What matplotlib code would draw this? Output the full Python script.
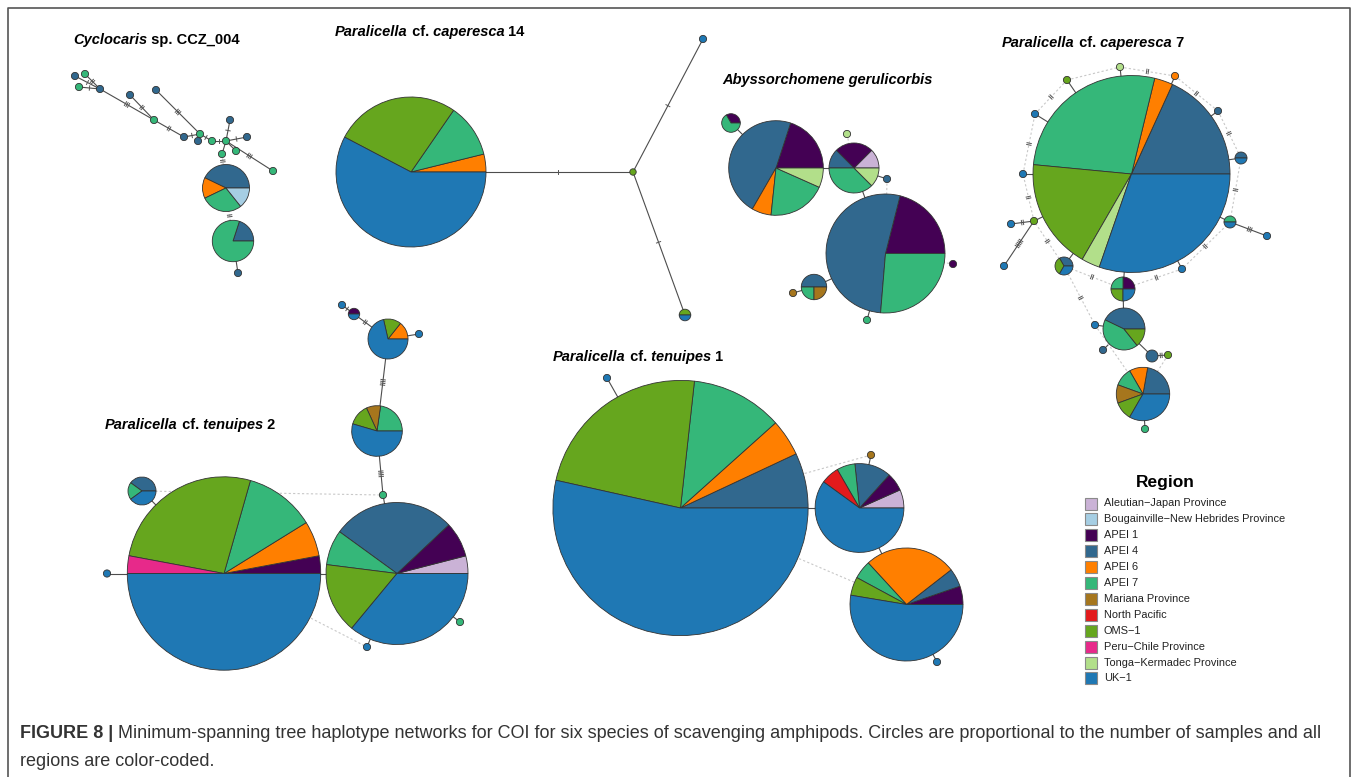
import matplotlib.pyplot as plt
import numpy as np

plt.rcParams['font.family'] = ['Liberation Sans', 'DejaVu Sans']

# 区域、代码与颜色（图例顺序）
region_names = ["Aleutian−Japan Province", "Bougainville−New Hebrides Province", "APEI 1", "APEI 4",
                "APEI 6", "APEI 7", "Mariana Province", "North Pacific", "OMS−1",
                "Peru−Chile Province", "Tonga−Kermadec Province", "UK−1"]
region_codes = ["AJ", "BNH", "A1", "A4", "A6", "A7", "MAR", "NP", "OMS", "PC", "TK", "UK"]
region_colors = ["#CAB2D6", "#A6CEE3", "#440154", "#31688E", "#FF7F00", "#35B779",
                 "#A6761D", "#E31A1C", "#66A61E", "#E7298A", "#B2DF8A", "#1F78B4"]
col = dict(zip(region_codes, region_colors))

# ---------------- 单倍型组成（样本数） ----------------
cyclo_haps = {
    "c1": {"A4": 1}, "c2": {"A7": 1}, "c3": {"A7": 1}, "c4": {"A4": 1}, "c5": {"A4": 1},
    "c6": {"A4": 1}, "c7": {"A7": 1}, "c8": {"A4": 1}, "c9": {"A4": 1}, "c10": {"A7": 1},
    "c11": {"A7": 1}, "c12": {"A7": 1}, "c13": {"A4": 1}, "c14": {"A4": 1}, "c15": {"A7": 1},
    "c16": {"A7": 1}, "c17": {"A7": 1}, "c18": {"A4": 1},
    "P1": {"A4": 6, "A6": 2, "A7": 4, "BNH": 2},
    "P2": {"A4": 2, "A7": 8},
}
cap14_haps = {
    "B": {"A6": 1, "A7": 3, "OMS": 7, "UK": 15},
    "m": {"OMS": 1}, "t": {"UK": 1}, "b": {"OMS": 1, "UK": 1},
}
abyss_haps = {
    "A": {"A1": 3, "A4": 7, "A6": 1, "A7": 3, "TK": 1},
    "Bp": {"AJ": 1, "A1": 2, "A4": 1, "A7": 3, "TK": 1},
    "C": {"A1": 4, "A4": 10, "A7": 5},
    "D": {"A4": 2, "A7": 1, "MAR": 1},
    "E": {"A1": 1, "A7": 2},
    "n1": {"TK": 1}, "n2": {"A4": 1}, "n3": {"A1": 1}, "n4": {"MAR": 1}, "n5": {"A7": 1},
}
cap7_haps = {
    "G": {"A4": 6, "A6": 1, "A7": 9, "OMS": 6, "TK": 1, "UK": 10},
    "P2": {"A1": 1, "A7": 1, "OMS": 1, "UK": 1},
    "P3": {"A4": 3, "A7": 3, "OMS": 1},
    "P4": {"A4": 1},
    "P5": {"A4": 2, "A6": 1, "A7": 1, "MAR": 1, "OMS": 1, "UK": 3},
    "Q1": {"A4": 1, "UK": 1}, "Q2": {"A7": 1, "UK": 1}, "Q3": {"A4": 1, "OMS": 1, "UK": 1},
    "s1": {"TK": 1}, "s2": {"A6": 1}, "s3": {"OMS": 1}, "s4": {"UK": 1}, "s5": {"A4": 1},
    "s6": {"UK": 1}, "s7": {"UK": 1}, "s8": {"OMS": 1}, "s9": {"UK": 1}, "s10": {"UK": 1},
    "s11": {"UK": 1}, "s12": {"UK": 1}, "s13": {"A4": 1}, "s14": {"OMS": 1}, "s15": {"A7": 1},
}
ten2_haps = {
    "Tb": {"A1": 1, "A6": 2, "A7": 4, "OMS": 9, "PC": 1, "UK": 17},
    "Tr": {"AJ": 1, "A1": 2, "A4": 7, "A7": 2, "OMS": 4, "UK": 9},
    "Ts": {"A4": 2, "A7": 1, "UK": 2},
    "T1": {"A6": 1, "OMS": 1, "UK": 5},
    "T2": {"A7": 5, "MAR": 2, "OMS": 3, "UK": 12},
    "T0": {"A1": 1, "UK": 1},
    "u1": {"UK": 1}, "u2": {"UK": 1}, "u3": {"A7": 1}, "u4": {"UK": 1}, "u5": {"A7": 1}, "u6": {"UK": 1},
}
ten1_haps = {
    "V": {"A4": 3, "A6": 2, "A7": 5, "OMS": 10, "UK": 23},
    "S1": {"AJ": 1, "A1": 1, "A4": 2, "A7": 1, "NP": 1, "UK": 9},
    "S2": {"A1": 1, "A4": 1, "A6": 5, "A7": 1, "OMS": 1, "UK": 10},
    "w1": {"UK": 1}, "w2": {"MAR": 1}, "w3": {"UK": 1},
}

# ---------------- 网络布局（像素坐标 x, y, 半径） ----------------
R0 = 3.6
cyclo_lay = {
    "c1": (75, 76, R0), "c2": (85, 74, R0), "c3": (79, 87, R0), "c4": (100, 89, R0),
    "c5": (130, 95, R0), "c6": (156, 90, R0), "c7": (154, 120, R0), "c8": (184, 137, R0),
    "c9": (198, 141, R0), "c10": (200, 134, R0), "c11": (212, 141, R0), "c12": (226, 141, R0),
    "c13": (230, 120, R0), "c14": (247, 137, R0), "c15": (236, 151, R0), "c16": (222, 154, R0),
    "c17": (273, 171, R0), "c18": (238, 273, R0),
    "P1": (226, 188, 23.5), "P2": (233, 241, 20.7),
}
cap14_lay = {"B": (411, 172, 75), "m": (633, 172, 3.2), "t": (703, 39, 3.6), "b": (685, 315, 5.8)}
abyss_lay = {
    "A": (776, 168, 47.3), "Bp": (854, 168, 25), "C": (885.5, 253.5, 59.5), "D": (814, 287, 12.7),
    "E": (731, 123, 9.3), "n1": (847, 134, R0), "n2": (887, 179, R0), "n3": (953, 264, R0),
    "n4": (793, 293, R0), "n5": (867, 320, R0),
}
cap7_lay = {
    "G": (1131.5, 174, 98.5), "P2": (1123, 289, 12), "P3": (1124, 329, 21), "P4": (1152, 356, 6),
    "P5": (1143, 394, 26.7), "Q1": (1241, 158, 6), "Q2": (1230, 222, 6), "Q3": (1064, 266, 9),
    "s1": (1120, 67, R0), "s2": (1175, 76, R0), "s3": (1067, 80, R0), "s4": (1035, 114, R0),
    "s5": (1218, 111, R0), "s6": (1023, 174, R0), "s7": (1011, 224, R0), "s8": (1034, 221, R0),
    "s9": (1004, 266, R0), "s10": (1267, 236, R0), "s11": (1182, 269, R0), "s12": (1095, 325, R0),
    "s13": (1103, 350, R0), "s14": (1168, 355, R0), "s15": (1145, 429, R0),
}
ten2_lay = {
    "Tb": (224, 573.5, 96.7), "Tr": (397, 573.5, 71), "Ts": (142, 491, 14), "T1": (388, 339, 20),
    "T2": (377, 431, 25.3), "T0": (354, 314, 5.7), "u1": (342, 305, R0), "u2": (419, 334, R0),
    "u3": (383, 495, R0), "u4": (107, 573.5, R0), "u5": (460, 622, R0), "u6": (367, 647, R0),
}
ten1_lay = {
    "V": (680.5, 508, 127.6), "S1": (859.5, 508, 44.4), "S2": (906.5, 604.5, 56.5),
    "w1": (607, 378, R0), "w2": (871, 455, R0), "w3": (937, 662, R0),
}

# ---------------- 连线（起点, 终点, 突变刻痕数, 是否虚线） ----------------
cyclo_edges = [("c1", "c4", 1, 0), ("c2", "c4", 2, 0), ("c3", "c4", 1, 0), ("c4", "c7", 3, 0),
               ("c5", "c7", 2, 0), ("c7", "c8", 2, 0), ("c6", "c10", 3, 0), ("c8", "c10", 1, 0),
               ("c9", "c10", 0, 0), ("c10", "c11", 1, 0), ("c11", "c12", 1, 0), ("c12", "c13", 1, 0),
               ("c12", "c14", 1, 0), ("c12", "c15", 0, 0), ("c12", "c16", 0, 0), ("c12", "c17", 3, 0),
               ("c16", "P1", 2, 1), ("P1", "P2", 2, 1), ("P2", "c18", 0, 0)]
cap14_edges = [("B", "m", 1, 0), ("m", "t", 1, 0), ("m", "b", 1, 0)]
abyss_edges = [("E", "A", 0, 0), ("A", "Bp", 0, 0), ("Bp", "C", 0, 0), ("Bp", "n2", 0, 0),
               ("D", "C", 0, 0), ("D", "n4", 0, 0), ("C", "n5", 0, 0),
               ("n1", "Bp", 0, 1), ("n2", "C", 0, 1), ("C", "n3", 0, 1)]
cap7_edges = [("s1", "G", 0, 0), ("s2", "G", 0, 0), ("s3", "G", 0, 0), ("s4", "G", 0, 0),
              ("s5", "G", 0, 0), ("Q1", "G", 0, 0), ("s6", "G", 0, 0), ("s8", "G", 0, 0),
              ("Q2", "G", 0, 0), ("Q3", "G", 0, 0), ("s11", "G", 0, 0), ("P2", "G", 0, 0),
              ("P2", "P3", 0, 0), ("P3", "P4", 0, 0), ("P4", "s14", 2, 0), ("P3", "s12", 0, 0),
              ("P3", "s13", 0, 0), ("P5", "s15", 0, 0), ("s8", "s7", 2, 0), ("s8", "s9", 5, 0),
              ("Q2", "s10", 3, 0),
              ("s1", "s2", 2, 1), ("s2", "s5", 2, 1), ("s5", "Q1", 2, 1), ("Q1", "Q2", 2, 1),
              ("Q2", "s11", 2, 1), ("s11", "P2", 2, 1), ("P2", "Q3", 2, 1), ("Q3", "s8", 2, 1),
              ("s8", "s6", 2, 1), ("s6", "s4", 2, 1), ("s4", "s3", 2, 1), ("s3", "s1", 0, 1),
              ("Q3", "s12", 2, 1), ("s14", "P5", 0, 1), ("s12", "P5", 0, 1)]
ten2_edges = [("u1", "T0", 1, 0), ("T0", "T1", 2, 0), ("T1", "u2", 0, 0), ("T1", "T2", 4, 0),
              ("T2", "u3", 4, 0), ("u3", "Tr", 0, 0), ("Tb", "Tr", 0, 0), ("Tb", "u4", 0, 0),
              ("Ts", "Tb", 0, 0), ("Tr", "u5", 0, 0), ("Tr", "u6", 0, 0),
              ("Ts", "u3", 0, 1), ("Tb", "u6", 0, 1)]
ten1_edges = [("V", "S1", 0, 0), ("V", "w1", 0, 0), ("S1", "w2", 0, 0), ("S1", "S2", 0, 0),
              ("S2", "w3", 0, 0), ("V", "w2", 0, 1), ("V", "S2", 0, 1)]

titles = [
    (73, 40, [("Cyclocaris", "italic"), (" sp. CCZ_004", "normal")]),
    (335, 32, [("Paralicella", "italic"), (" cf.", "normal"), (" caperesca", "italic"), (" 14", "normal")]),
    (722, 80, [("Abyssorchomene gerulicorbis", "italic")]),
    (1002, 43, [("Paralicella", "italic"), (" cf.", "normal"), (" caperesca", "italic"), (" 7", "normal")]),
    (105, 425, [("Paralicella", "italic"), (" cf.", "normal"), (" tenuipes", "italic"), (" 2", "normal")]),
    (553, 357, [("Paralicella", "italic"), (" cf.", "normal"), (" tenuipes", "italic"), (" 1", "normal")]),
]

fig = plt.figure(figsize=(13.57, 7.77), dpi=100)
ax = fig.add_axes([0, 0, 1, 1])


def draw_ticks(p, q, n):
    p, q = np.array(p, float), np.array(q, float)
    u = (q - p) / np.hypot(*(q - p))
    nr = np.array([-u[1], u[0]])
    mid = (p + q) / 2
    for k in range(n):
        c = mid + u * (k - (n - 1) / 2) * 1.8
        a, b = c - nr * 2.2, c + nr * 2.2
        ax.plot([a[0], b[0]], [a[1], b[1]], color='#555555', lw=0.7, zorder=1.5)


def draw_network(haps, lay, edges):
    for a, b, nt, dotted in edges:
        xa, ya, ra = lay[a]
        xb, yb, rb = lay[b]
        if dotted:
            ax.plot([xa, xb], [ya, yb], color='#c8c8c8', lw=0.8, ls=(0, (2, 2)), zorder=1)
        else:
            ax.plot([xa, xb], [ya, yb], color='#4d4d4d', lw=0.8, zorder=1)
        if nt:
            d = np.hypot(xb - xa, yb - ya)
            ux, uy = (xb - xa) / d, (yb - ya) / d
            draw_ticks((xa + ux * ra, ya + uy * ra), (xb - ux * rb, yb - uy * rb), nt)
    for name, counts in haps.items():
        x, y, r = lay[name]
        ax.pie(list(counts.values()), colors=[col[c] for c in counts], center=(x, y), radius=r,
               startangle=0, counterclock=False,
               wedgeprops=dict(edgecolor='#333333', linewidth=0.6, zorder=2))


draw_network(cyclo_haps, cyclo_lay, cyclo_edges)
draw_network(cap14_haps, cap14_lay, cap14_edges)
draw_network(abyss_haps, abyss_lay, abyss_edges)
draw_network(cap7_haps, cap7_lay, cap7_edges)
draw_network(ten2_haps, ten2_lay, ten2_edges)
draw_network(ten1_haps, ten1_lay, ten1_edges)


def rich_text(x, y, parts, size, color='black', weights=None):
    t = None
    for i, (s, st) in enumerate(parts):
        w = weights[i] if weights else 'bold'
        if t is None:
            t = ax.text(x, y, s, fontsize=size, fontweight=w, fontstyle=st, color=color,
                        va='center', ha='left')
        else:
            t = ax.annotate(s, xy=(1, 0), xycoords=t, va='bottom', ha='left', fontsize=size,
                            fontweight=w, fontstyle=st, color=color)
    return t


for x, y, parts in titles:
    rich_text(x, y, parts, 10.5)

# 图例
ax.text(1165, 482, "Region", fontsize=12.5, fontweight='bold', ha='center', va='center')
for i, (name, c) in enumerate(zip(region_names, region_colors)):
    yy = 503.5 + i * 15.9
    ax.add_patch(plt.Rectangle((1085, yy - 6), 12, 12, facecolor=c, edgecolor='#8a8a8a', lw=0.8))
    ax.text(1104, yy, name, fontsize=7.9, ha='left', va='center', color='#222222')

# 图注
rich_text(20, 734, [("FIGURE 8 |", "normal"),
                    (" Minimum-spanning tree haplotype networks for COI for six species of scavenging amphipods. "
                     "Circles are proportional to the number of samples and all", "normal")],
          13.0, color='#333333', weights=['bold', 'normal'])
ax.text(20, 761, "regions are color-coded.", fontsize=13.0, color='#333333', va='center', ha='left')

# 边框
ax.plot([8, 8, 1350, 1350], [777, 8, 8, 777], color='#555555', lw=1.2, zorder=3)

ax.set_xlim(0, 1357)
ax.set_ylim(777, 0)
ax.set_aspect('equal')
ax.set_axis_off()

fig.savefig("out.png", dpi=100)
